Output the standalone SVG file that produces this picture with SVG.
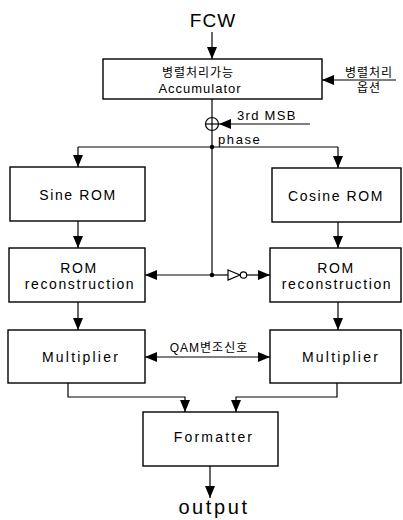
<svg xmlns="http://www.w3.org/2000/svg" width="403" height="520" viewBox="0 0 403 520">
<style>
.box{fill:#fff;stroke:#000;stroke-width:1.4}
.ln{fill:none;stroke:#000;stroke-width:1.2}
.t{font-family:"Liberation Sans","Noto Sans CJK KR",sans-serif;fill:#000;text-anchor:middle}
.b{font-size:14px;letter-spacing:1.6px}
.m{font-size:14px;letter-spacing:2.2px}
.k{font-size:12px;letter-spacing:1px}
</style>
<defs>
<marker id="ah" viewBox="0 0 12 10" refX="12" refY="5" markerWidth="12" markerHeight="10" markerUnits="userSpaceOnUse" orient="auto-start-reverse">
<path d="M0,0 L12,5 L0,10 Z" fill="#000"/>
</marker>
</defs>
<rect width="403" height="520" fill="#fff"/>
<g id="connectors">
<line class="ln" x1="212" y1="32" x2="212" y2="59" marker-end="url(#ah)"/>
<line class="ln" x1="396" y1="80" x2="322" y2="80" marker-end="url(#ah)"/>
<line class="ln" x1="212" y1="99" x2="212" y2="275"/>
<line class="ln" x1="310" y1="124" x2="219" y2="124" marker-end="url(#ah)"/>
<line class="ln" x1="78" y1="147" x2="338" y2="147"/>
<line class="ln" x1="78" y1="147" x2="78" y2="167" marker-end="url(#ah)"/>
<line class="ln" x1="338" y1="147" x2="338" y2="168" marker-end="url(#ah)"/>
<circle cx="212" cy="147" r="2.2" fill="#000"/>
<line class="ln" x1="78" y1="221" x2="78" y2="248" marker-end="url(#ah)"/>
<line class="ln" x1="338" y1="222" x2="338" y2="248" marker-end="url(#ah)"/>
<line class="ln" x1="212" y1="275" x2="145" y2="275" marker-end="url(#ah)"/>
<line class="ln" x1="212" y1="275" x2="228" y2="275"/>
<polygon points="228,270 240,275 228,280" fill="#fff" stroke="#000" stroke-width="1.2"/>
<circle cx="243.5" cy="275" r="3.2" fill="#fff" stroke="#000" stroke-width="1.2"/>
<line class="ln" x1="246.7" y1="275" x2="270" y2="275" marker-end="url(#ah)"/>
<circle cx="212" cy="275" r="2.2" fill="#000"/>
<line class="ln" x1="78" y1="302" x2="78" y2="330" marker-end="url(#ah)"/>
<line class="ln" x1="338" y1="302" x2="338" y2="330" marker-end="url(#ah)"/>
<line class="ln" x1="145" y1="357" x2="270" y2="357" marker-start="url(#ah)" marker-end="url(#ah)"/>
<polyline class="ln" points="68,383 68,397 185,397 185,412" marker-end="url(#ah)"/>
<polyline class="ln" points="337,383 337,397 236,397 236,412" marker-end="url(#ah)"/>
<line class="ln" x1="210" y1="466" x2="210" y2="498" marker-end="url(#ah)"/>
</g>
<g id="xor">
<circle cx="212" cy="124" r="6.5" fill="#fff" stroke="#000" stroke-width="1.2"/>
<line class="ln" x1="205.5" y1="124" x2="218.5" y2="124"/>
<line class="ln" x1="212" y1="117.5" x2="212" y2="130.5"/>
</g>
<g id="labels">
<text class="t" x="213" y="27" font-size="19" style="letter-spacing:1px">FCW</text>
<text class="t k" x="369" y="77">병렬처리</text>
<text class="t k" x="369" y="92">옵션</text>
<text x="237" y="120" font-family="Liberation Sans, sans-serif" font-size="13" style="letter-spacing:1.3px">3rd MSB</text>
<text x="218" y="144" font-family="Liberation Sans, sans-serif" font-size="13" style="letter-spacing:1.6px">phase</text>
<text class="t k" x="209" y="352">QAM변조신호</text>
<text class="t" x="214" y="514" font-size="20" style="letter-spacing:2.6px">output</text>
</g>
<g id="accumulator">
<rect class="box" x="103" y="59" width="219" height="40"/>
<text class="t k" x="198" y="77">병렬처리가능</text>
<text class="t" x="200" y="93" font-size="13" style="letter-spacing:1px">Accumulator</text>
</g>
<g id="sine-rom">
<rect class="box" x="10" y="167" width="135" height="54"/>
<text class="t b" x="78" y="200">Sine ROM</text>
</g>
<g id="cosine-rom">
<rect class="box" x="272" y="168" width="129" height="54"/>
<text class="t b" x="336" y="201">Cosine ROM</text>
</g>
<g id="rom-recon-left">
<rect class="box" x="9" y="248" width="136" height="54"/>
<text class="t b" x="79" y="273">ROM</text>
<text class="t b" x="80" y="289">reconstruction</text>
</g>
<g id="rom-recon-right">
<rect class="box" x="270" y="248" width="131" height="54"/>
<text class="t b" x="336" y="273">ROM</text>
<text class="t b" x="337" y="289">reconstruction</text>
</g>
<g id="multiplier-left">
<rect class="box" x="8" y="330" width="137" height="53"/>
<text class="t m" x="81" y="362">Multiplier</text>
</g>
<g id="multiplier-right">
<rect class="box" x="270" y="330" width="131" height="53"/>
<text class="t m" x="341" y="362">Multiplier</text>
</g>
<g id="formatter">
<rect class="box" x="143" y="412" width="135" height="54"/>
<text class="t m" x="214" y="442">Formatter</text>
</g>
</svg>
